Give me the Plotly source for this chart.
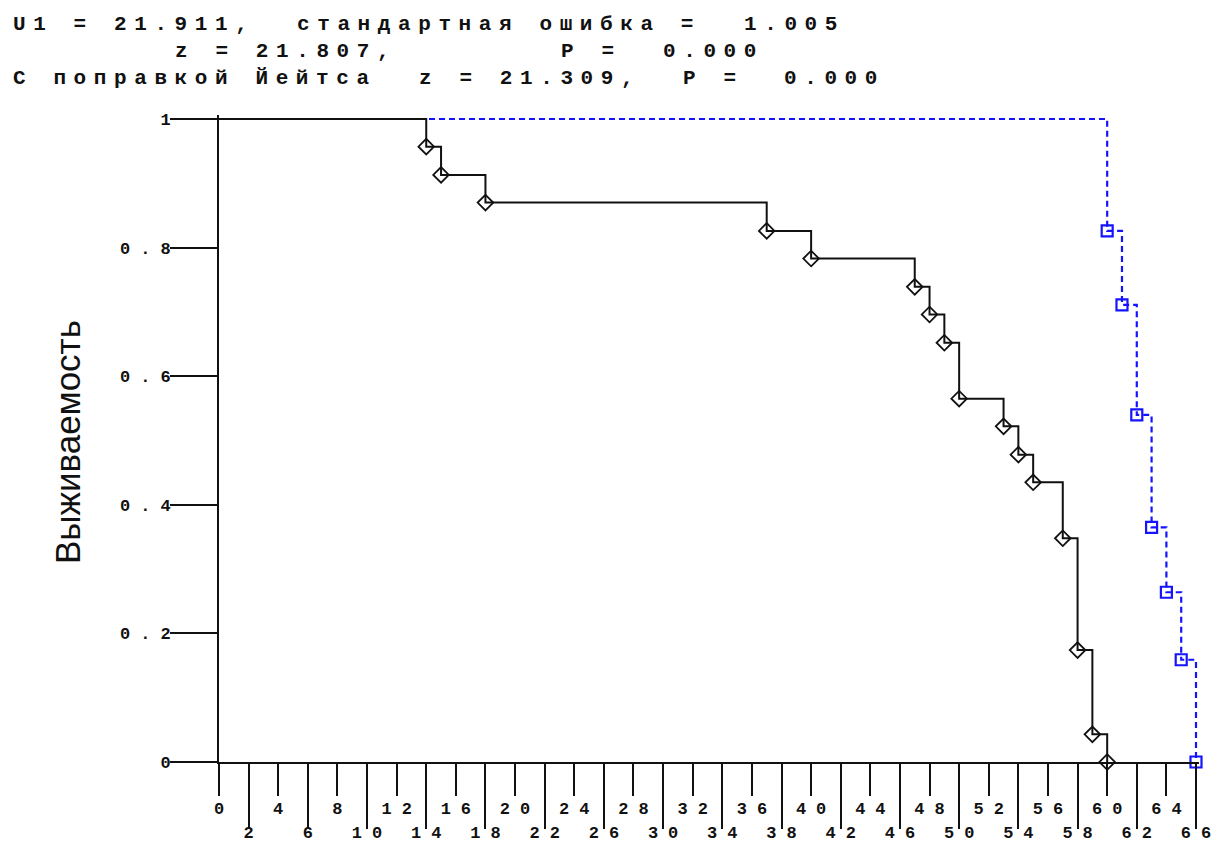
import plotly.graph_objects as go

# ---------------- data ----------------
black_t = [0, 14, 15, 18, 37, 40, 47, 48, 49, 50, 53, 54, 55, 57, 58, 59, 60]
black_s = [1, 0.957, 0.913, 0.870, 0.826, 0.783, 0.739, 0.696, 0.652,
           0.565, 0.522, 0.478, 0.435, 0.348, 0.174, 0.043, 0]
blue_t = [0, 60, 61, 62, 63, 64, 65, 66]
blue_s = [1, 0.826, 0.711, 0.540, 0.365, 0.264, 0.159, 0]

x_ticks_upper = list(range(0, 65, 4))
x_ticks_lower = list(range(2, 67, 4))
y_ticks = [0, 0.2, 0.4, 0.6, 0.8, 1]
y_tick_labels = ["0", "0.2", "0.4", "0.6", "0.8", "1"]
y_title = "Выживаемость"

# statistics header: (line, column, text)
stat_segments = [
    (0, 0, "U1 = 21.911,"), (0, 14, "стандартная ошибка ="), (0, 36, "1.005"),
    (1, 8, "z = 21.807,"), (1, 27, "P ="), (1, 32, "0.000"),
    (2, 0, "С поправкой Йейтса"), (2, 20, "z = 21.309,"), (2, 33, "P ="), (2, 38, "0.000"),
]

# ---------------- layout geometry (reference pixels) ----------------
OFF = 8                      # page body margin of the html page
W, H = 1222 - OFF, 844 - OFF  # figure size
X0PX, Y0PX = 219, 762         # pixel of x=0 / y=0 in the reference
SX, SY = 977 / 66, 643        # pixels per unit
L, R, T, B = X0PX, 1199, 115, Y0PX
XMAX = (R - X0PX) / SX
YMAX = (Y0PX - T) / SY
MONO = "Liberation Mono"


def px_x(p):
    return (p - L) / (R - L)


def px_y(p):
    return (B - p) / (B - T)


def spaced(s, sp):
    if len(s) < 2:
        return s
    return '<span style="letter-spacing:%spx">%s</span>%s' % (sp, s[:-1], s[-1])


fig = go.Figure()

# blue series (drawn first, under black)
fig.add_trace(go.Scatter(x=blue_t, y=blue_s, mode="lines", line_shape="hv",
                         line=dict(color="#1414ff", width=2.2, dash="6px,4px"),
                         cliponaxis=False, showlegend=False, xaxis="x", yaxis="y"))
fig.add_trace(go.Scatter(x=blue_t[1:], y=blue_s[1:], mode="markers",
                         marker=dict(symbol="square-open", size=11, color="#1414ff",
                                     line=dict(width=2.2, color="#1414ff")),
                         cliponaxis=False, showlegend=False, xaxis="x", yaxis="y"))

# black series
fig.add_trace(go.Scatter(x=black_t, y=black_s, mode="lines", line_shape="hv",
                         line=dict(color="#111111", width=2),
                         cliponaxis=False, showlegend=False, xaxis="x2", yaxis="y"))
fig.add_trace(go.Scatter(x=black_t[1:], y=black_s[1:], mode="markers",
                         marker=dict(symbol="diamond-open", size=12, color="#111111",
                                     line=dict(width=1.8, color="#111111")),
                         cliponaxis=False, showlegend=False, xaxis="x2", yaxis="y"))

tickfont = dict(family=MONO, size=17, color="#111111", weight="bold")
TSP = 10

annotations = []
COLW, COL0 = 20.3, 12
LINE_Y = [24.5, 51.5, 78.5]
for line, col, txt in stat_segments:
    annotations.append(dict(
        text=spaced(txt, 7.6), x=px_x(COL0 + col * COLW), y=px_y(LINE_Y[line]),
        xref="paper", yref="paper", xanchor="left", yanchor="middle",
        showarrow=False, borderpad=0,
        font=dict(family=MONO, size=21, color="#111111", weight="bold")))

annotations.append(dict(
    text=y_title, textangle=-90, x=px_x(67), y=px_y(442), xref="paper", yref="paper",
    xanchor="center", yanchor="middle", showarrow=False,
    font=dict(family="Liberation Sans", size=35, color="#111111")))

fig.update_layout(
    width=W, height=H,
    margin=dict(l=L - OFF, r=(W + OFF) - R, t=T - OFF, b=(H + OFF) - B, pad=0,
                autoexpand=False),
    paper_bgcolor="white", plot_bgcolor="white",
    showlegend=False,
    annotations=annotations,
    xaxis=dict(range=[0, XMAX], showgrid=False, zeroline=False, showline=True,
               automargin=False,
               linecolor="#111111", linewidth=2, ticks="outside", ticklen=32,
               tickwidth=2, tickcolor="#111111", tickvals=x_ticks_upper,
               ticktext=[spaced(str(v), TSP) for v in x_ticks_upper],
               tickfont=tickfont, ticklabelstandoff=-2),
    xaxis2=dict(range=[0, XMAX], overlaying="x", anchor="y", side="bottom",
                automargin=False,
                showgrid=False, zeroline=False, showline=False,
                ticks="outside", ticklen=66, tickwidth=2, tickcolor="#111111",
                tickvals=x_ticks_lower,
                ticktext=[spaced(str(v), TSP) for v in x_ticks_lower],
                tickfont=tickfont, ticklabelstandoff=-11),
    yaxis=dict(range=[0, YMAX], showgrid=False, zeroline=False, showline=True,
               automargin=False,
               linecolor="#111111", linewidth=2, ticks="outside", ticklen=47,
               tickwidth=2, tickcolor="#111111", tickvals=y_ticks,
               ticktext=[spaced(t, TSP) for t in y_tick_labels],
               tickfont=tickfont, ticklabelstandoff=-4),
)

fig.write_html("out.html")
